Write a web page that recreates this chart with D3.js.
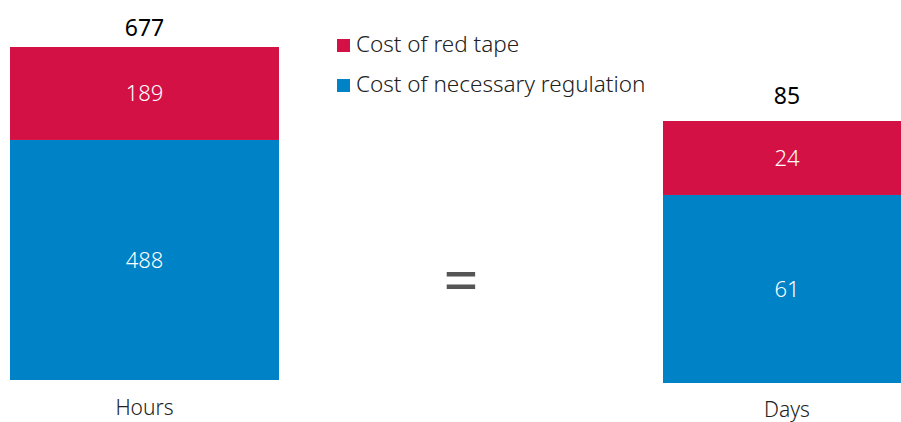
<!DOCTYPE html>
<html>
<head>
<meta charset="utf-8">
<script src="https://cdn.jsdelivr.net/npm/d3@7"></script>
<style>
  html, body { margin: 0; padding: 0; background: #fff; }
  svg { display: block; font-family: "Noto Sans", "Open Sans", sans-serif; }
</style>
</head>
<body>
<svg id="chart" width="901" height="422"></svg>
<script>
// Units and stacked values (necessary regulation at the bottom, red tape on top)
const categories = ["Hours", "Days"];
const necessaryRegulation = [488, 61];
const redTape = [189, 24];
const totals = [677, 85];
const seriesNames = ["Cost of red tape", "Cost of necessary regulation"];
const seriesColors = ["#D31145", "#0082C6"];

// Each unit gets its own panel with an independent vertical scale
const panels = [
  { x0: 10, x1: 279, top: 47, base: 380, totalGap: 11, labelGap: 35 },
  { x0: 663, x1: 911, top: 121, base: 383, totalGap: 17, labelGap: 34 }
];

const svg = d3.select("#chart");

categories.forEach((cat, i) => {
  const p = panels[i];
  const x = d3.scaleBand().domain([cat]).range([p.x0, p.x1]).padding(0);
  const y = d3.scaleLinear().domain([0, totals[i]]).range([p.base, p.top]);

  const stack = [
    { name: seriesNames[1], lo: 0, hi: necessaryRegulation[i], color: seriesColors[1] },
    { name: seriesNames[0], lo: necessaryRegulation[i], hi: necessaryRegulation[i] + redTape[i], color: seriesColors[0] }
  ];

  const g = svg.append("g");

  g.selectAll("rect")
    .data(stack)
    .join("rect")
    .attr("x", x(cat))
    .attr("width", x.bandwidth())
    .attr("y", d => y(d.hi))
    .attr("height", d => y(d.lo) - y(d.hi))
    .attr("fill", d => d.color);

  g.selectAll("text.seg")
    .data(stack)
    .join("text")
    .attr("class", "seg")
    .attr("x", x(cat) + x.bandwidth() / 2)
    .attr("y", d => (y(d.lo) + y(d.hi)) / 2 + 8)
    .attr("text-anchor", "middle")
    .attr("fill", "#fff")
    .attr("font-size", 22)
    .attr("font-weight", 300)
    .text(d => d.hi - d.lo);

  g.append("text")
    .attr("x", x(cat) + x.bandwidth() / 2)
    .attr("y", y(totals[i]) - p.totalGap)
    .attr("text-anchor", "middle")
    .attr("fill", "#000")
    .attr("font-size", 23)
    .attr("font-weight", 400)
    .text(totals[i]);

  g.append("text")
    .attr("x", x(cat) + x.bandwidth() / 2)
    .attr("y", p.base + p.labelGap)
    .attr("text-anchor", "middle")
    .attr("fill", "#222")
    .attr("font-size", 21)
    .attr("font-weight", 300)
    .text(cat);
});

// Equals sign between the two panels
svg.append("text")
  .attr("x", 461)
  .attr("y", 303)
  .attr("text-anchor", "middle")
  .attr("fill", "#555")
  .attr("font-size", 62)
  .attr("font-weight", 400)
  .text("=");

// Legend
const legend = svg.append("g").attr("transform", "translate(337,39)");
const items = legend.selectAll("g")
  .data(seriesNames)
  .join("g")
  .attr("transform", (d, i) => `translate(0,${i * 40})`);
items.append("rect")
  .attr("width", 13).attr("height", 13)
  .attr("fill", (d, i) => seriesColors[i]);
items.append("text")
  .attr("x", 19).attr("y", 13)
  .attr("fill", "#222")
  .attr("font-size", 22.5)
  .attr("font-weight", 300)
  .text(d => d);
</script>
</body>
</html>
